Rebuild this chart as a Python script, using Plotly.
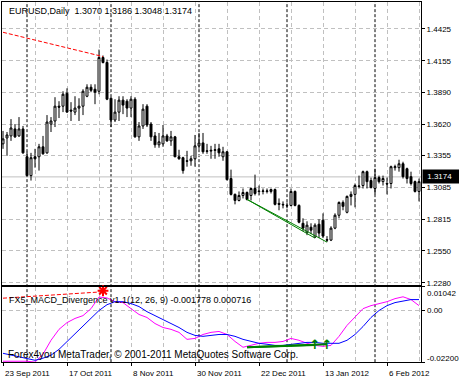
import plotly.graph_objects as go
import pandas as pd

# ---------------- data ----------------
dates = pd.bdate_range("2011-09-23", periods=105)
bars = list(range(105))

opens = [1.3453, 1.3503, 1.3520, 1.3579, 1.3520, 1.3579, 1.3344, 1.3185, 1.3344, 1.3344,
         1.3428, 1.3377, 1.3620, 1.3646, 1.3771, 1.3771, 1.3880, 1.3738, 1.3721, 1.3755,
         1.3771, 1.3855, 1.3931, 1.3914, 1.3897, 1.4182, 1.4140, 1.3838, 1.3654, 1.3721,
         1.3822, 1.3813, 1.3755, 1.3830, 1.3512, 1.3604, 1.3771, 1.3620, 1.3520, 1.3445,
         1.3453, 1.3520, 1.3478, 1.3512, 1.3344, 1.3336, 1.3310, 1.3310, 1.3327, 1.3436,
         1.3461, 1.3394, 1.3392, 1.3398, 1.3411, 1.3344, 1.3386, 1.3160, 1.3026, 1.2975,
         1.3017, 1.3042, 1.3017, 1.3076, 1.3055, 1.3051, 1.3051, 1.3051, 1.3067, 1.2950,
         1.2942, 1.2933, 1.2933, 1.3051, 1.2933, 1.2782, 1.2707, 1.2749, 1.2665, 1.2774,
         1.2808, 1.2644, 1.2640, 1.2741, 1.2850, 1.2958, 1.2875, 1.3009, 1.3026, 1.3093,
         1.3101, 1.3218, 1.3143, 1.3076, 1.3168, 1.3134, 1.3118, 1.3118, 1.3252, 1.3252,
         1.3285, 1.3243, 1.3176, 1.3134, 1.3051]
highs = [1.3562, 1.3553, 1.3662, 1.3620, 1.3679, 1.3604, 1.3386, 1.3377, 1.3411, 1.3453,
         1.3520, 1.3696, 1.3679, 1.3847, 1.3813, 1.3897, 1.3922, 1.3805, 1.3855, 1.3838,
         1.3914, 1.3956, 1.3956, 1.3956, 1.4249, 1.4199, 1.4165, 1.3847, 1.3830, 1.3855,
         1.3855, 1.3830, 1.3855, 1.3847, 1.3637, 1.3788, 1.3788, 1.3637, 1.3553, 1.3545,
         1.3612, 1.3537, 1.3562, 1.3520, 1.3403, 1.3344, 1.3394, 1.3352, 1.3528, 1.3545,
         1.3545, 1.3453, 1.3436, 1.3453, 1.3453, 1.3428, 1.3394, 1.3235, 1.3034, 1.3051,
         1.3076, 1.3051, 1.3084, 1.3193, 1.3101, 1.3076, 1.3076, 1.3076, 1.3076, 1.2992,
         1.2967, 1.2958, 1.3076, 1.3059, 1.2942, 1.2824, 1.2799, 1.2782, 1.2782, 1.2816,
         1.2866, 1.2674, 1.2757, 1.2866, 1.2967, 1.2975, 1.3017, 1.3051, 1.3118, 1.3185,
         1.3227, 1.3227, 1.3168, 1.3243, 1.3185, 1.3185, 1.3168, 1.3269, 1.3277, 1.3319,
         1.3302, 1.3252, 1.3218, 1.3143, 1.3160]
lows = [1.3411, 1.3352, 1.3478, 1.3503, 1.3512, 1.3369, 1.3176, 1.3143, 1.3252, 1.3227,
        1.3361, 1.3369, 1.3553, 1.3595, 1.3671, 1.3721, 1.3715, 1.3646, 1.3696, 1.3646,
        1.3696, 1.3847, 1.3889, 1.3788, 1.3872, 1.4132, 1.3822, 1.3595, 1.3637, 1.3646,
        1.3704, 1.3679, 1.3679, 1.3505, 1.3478, 1.3579, 1.3595, 1.3478, 1.3420, 1.3420,
        1.3428, 1.3470, 1.3436, 1.3340, 1.3319, 1.3201, 1.3260, 1.3268, 1.3260, 1.3411,
        1.3369, 1.3369, 1.3327, 1.3327, 1.3344, 1.3310, 1.3143, 1.3017, 1.2942, 1.2967,
        1.2992, 1.2975, 1.2975, 1.3017, 1.3017, 1.3026, 1.3034, 1.3034, 1.2933, 1.2892,
        1.2908, 1.2908, 1.2925, 1.2925, 1.2782, 1.2716, 1.2682, 1.2690, 1.2657, 1.2657,
        1.2657, 1.2623, 1.2632, 1.2732, 1.2824, 1.2892, 1.2866, 1.2933, 1.2917, 1.3076,
        1.3076, 1.3076, 1.3076, 1.3026, 1.3118, 1.3101, 1.3026, 1.3076, 1.3227, 1.3218,
        1.3160, 1.3118, 1.3101, 1.3042, 1.2967]
closes = [1.3495, 1.3528, 1.3587, 1.3512, 1.3579, 1.3377, 1.3185, 1.3336, 1.3327, 1.3428,
          1.3369, 1.3637, 1.3646, 1.3771, 1.3763, 1.3872, 1.3721, 1.3730, 1.3755, 1.3771,
          1.3897, 1.3931, 1.3905, 1.3889, 1.4182, 1.4140, 1.3830, 1.3654, 1.3721, 1.3822,
          1.3780, 1.3755, 1.3830, 1.3512, 1.3604, 1.3746, 1.3612, 1.3512, 1.3445, 1.3470,
          1.3520, 1.3478, 1.3512, 1.3344, 1.3327, 1.3227, 1.3306, 1.3327, 1.3436, 1.3461,
          1.3386, 1.3390, 1.3398, 1.3403, 1.3377, 1.3386, 1.3151, 1.3026, 1.2975, 1.3017,
          1.3042, 1.2984, 1.3076, 1.3034, 1.3051, 1.3055, 1.3055, 1.3067, 1.2942, 1.2942,
          1.2938, 1.2930, 1.3051, 1.2933, 1.2791, 1.2741, 1.2766, 1.2724, 1.2766, 1.2699,
          1.2674, 1.2640, 1.2741, 1.2850, 1.2958, 1.2925, 1.3009, 1.3026, 1.3101, 1.3097,
          1.3218, 1.3134, 1.3084, 1.3168, 1.3134, 1.3160, 1.3114, 1.3260, 1.3260, 1.3285,
          1.3176, 1.3160, 1.3118, 1.3051, 1.3134]

macd_bars = list(range(0, 105, 2))
macd_main = [-0.0216, -0.0216, -0.0216, -0.0216, -0.0220, -0.0186, -0.0126, -0.0079, -0.0050, -0.0032,
             -0.0020, 0.0010, 0.0060, 0.0056, 0.0040, 0.0036, 0.0010, -0.0015, -0.0028, -0.0054,
             -0.0071, -0.0079, -0.0092, -0.0122, -0.0118, -0.0101, -0.0092, -0.0088, -0.0101, -0.0131,
             -0.0156, -0.0148, -0.0139, -0.0135, -0.0135, -0.0131, -0.0118, -0.0126, -0.0139, -0.0148,
             -0.0152, -0.0148, -0.0109, -0.0062, -0.0024, 0.0010, 0.0023, 0.0032, 0.0040, 0.0053,
             0.0061, 0.0049, 0.0023]
macd_signal = [-0.0182, -0.0190, -0.0199, -0.0207, -0.0212, -0.0203, -0.0190, -0.0165, -0.0131, -0.0101,
               -0.0067, -0.0032, 0.0002, 0.0027, 0.0040, 0.0040, 0.0032, 0.0019, -0.0003, -0.0020,
               -0.0037, -0.0054, -0.0071, -0.0092, -0.0105, -0.0109, -0.0105, -0.0101, -0.0101, -0.0109,
               -0.0122, -0.0131, -0.0139, -0.0143, -0.0148, -0.0148, -0.0143, -0.0139, -0.0135, -0.0135,
               -0.0139, -0.0139, -0.0139, -0.0126, -0.0101, -0.0067, -0.0028, 0.0002, 0.0023, 0.0036,
               0.0044, 0.0049, 0.0049]

price_ticks = [1.4425, 1.4155, 1.3890, 1.3620, 1.3355, 1.3085, 1.2815, 1.2550, 1.2280]
macd_ticks = [0.01042, 0.00, -0.02200]
macd_tick_text = ["0.01042", "0.00", "-0.02200"]
separator_bars = [6, 27, 49, 71, 93]
label_bars = [0, 16, 32, 48, 64, 80, 96]
last_price = 1.3174
title_text = "EURUSD,Daily  1.3070 1.3186 1.3048 1.3174"
macd_text = "FX5_MACD_Divergence v1.1(12, 26, 9) -0.001778 0.000716"
copyright_text = "Forex4you MetaTrader, \u00a9 2001-2011 MetaQuotes Software Corp."

bear_price_x, bear_price_y = [0, 25], [1.4395, 1.4190]
bull_price_ax, bull_price_ay = [61, 81], [1.2984, 1.2623]
bull_price_bx, bull_price_by = [61, 78], [1.2984, 1.2657]
bear_macd_x, bear_macd_y = [0, 24.5], [0.0055, 0.0082]
bull_macd_ax, bull_macd_ay = [61, 81], [-0.0156, -0.0143]
bull_macd_bx, bull_macd_by = [61, 78], [-0.0156, -0.0146]
sell_x, sell_y = [25], [0.0087]
buy_x, buy_y = [78, 81], [-0.0150, -0.0150]

# ---------------- layout geometry ----------------
W, H = 459, 384
XD = [2 / W, 421 / W]
YD_MAIN = [1 - 287 / H, 1 - 2 / H]
YD_MACD = [1 - 365 / H, 1 - 289 / H]
FONT = "Liberation Sans, Arial, sans-serif"
GRID = "#c0c0c0"

fig = go.Figure()

fig.add_trace(go.Candlestick(
    x=bars, open=opens, high=highs, low=lows, close=closes,
    increasing=dict(line=dict(color="black", width=1), fillcolor="white"),
    decreasing=dict(line=dict(color="black", width=1), fillcolor="black"),
    whiskerwidth=0, xaxis="x", yaxis="y", showlegend=False, hoverinfo="skip"))

for xs, ys, col, dash in [(bear_price_x, bear_price_y, "red", "4px,2px"),
                          (bull_price_ax, bull_price_ay, "#008000", "solid"),
                          (bull_price_bx, bull_price_by, "#008000", "solid")]:
    fig.add_trace(go.Scatter(x=xs, y=ys, mode="lines", line=dict(color=col, width=1, dash=dash),
                             xaxis="x", yaxis="y", showlegend=False, hoverinfo="skip"))

fig.add_trace(go.Scatter(x=macd_bars, y=macd_main, mode="lines", line=dict(color="#ff00ff", width=1),
                         xaxis="x2", yaxis="y2", showlegend=False, hoverinfo="skip"))
fig.add_trace(go.Scatter(x=macd_bars, y=macd_signal, mode="lines", line=dict(color="#0000ff", width=1),
                         xaxis="x2", yaxis="y2", showlegend=False, hoverinfo="skip"))
fig.add_trace(go.Scatter(x=bear_macd_x, y=bear_macd_y, mode="lines", line=dict(color="red", width=1, dash="4px,2px"),
                         xaxis="x2", yaxis="y2", showlegend=False, hoverinfo="skip"))
for xs, ys in [(bull_macd_ax, bull_macd_ay), (bull_macd_bx, bull_macd_by)]:
    fig.add_trace(go.Scatter(x=xs, y=ys, mode="lines", line=dict(color="#008000", width=2),
                             xaxis="x2", yaxis="y2", showlegend=False, hoverinfo="skip"))
fig.add_trace(go.Scatter(x=sell_x, y=sell_y, mode="markers",
                         marker=dict(symbol="asterisk-open", size=9, color="red",
                                     line=dict(color="red", width=2)),
                         xaxis="x2", yaxis="y2", showlegend=False, hoverinfo="skip", cliponaxis=False))
fig.add_trace(go.Scatter(x=buy_x, y=buy_y, mode="text", text=["<b>\u2191</b>"] * len(buy_x),
                         textfont=dict(color="#008000", size=13, family="DejaVu Sans"),
                         xaxis="x2", yaxis="y2", showlegend=False, hoverinfo="skip"))

xr = [-0.25, 104.5]
common_x = dict(domain=XD, range=xr, showline=True, mirror=True, linecolor="black", linewidth=1,
                zeroline=False, showticklabels=False)
fig.update_layout(
    width=W, height=H, margin=dict(l=0, r=0, t=0, b=0),
    paper_bgcolor="white", plot_bgcolor="white",
    font=dict(family=FONT, color="black", size=8),
    xaxis=dict(**common_x, anchor="y", rangeslider=dict(visible=False),
               tickmode="linear", tick0=0, dtick=8, ticks="",
               showgrid=True, gridcolor=GRID, griddash="4px,3px", gridwidth=1),
    xaxis2=dict(**common_x, anchor="y2", matches="x",
                tickmode="array", tickvals=label_bars, ticks="outside", ticklen=3, tickcolor="black",
                showgrid=True, gridcolor=GRID, griddash="4px,3px", gridwidth=1,
                minor=dict(tick0=0, dtick=8, showgrid=True, gridcolor=GRID, griddash="4px,3px", ticks="")),
    yaxis=dict(domain=YD_MAIN, range=[1.2263, 1.4651], anchor="x", side="right",
               tickmode="array", tickvals=price_ticks, ticktext=[f"{v:.4f}" for v in price_ticks],
               ticks="outside", ticklen=3, tickcolor="black", tickfont=dict(size=8),
               showgrid=True, gridcolor=GRID, griddash="4px,3px", zeroline=False,
               showline=True, mirror=True, linecolor="black", linewidth=1),
    yaxis2=dict(domain=YD_MACD, range=[-0.022, 0.01042], anchor="x2", side="right",
                tickmode="array", tickvals=macd_ticks, showticklabels=False,
                ticks="outside", ticklen=3, tickcolor="black",
                showgrid=True, gridcolor=GRID, griddash="4px,3px", zeroline=False,
                showline=True, mirror=True, linecolor="black", linewidth=1),
)

shapes = []
for b in separator_bars:
    shapes.append(dict(type="line", xref="x", yref="paper", x0=b, x1=b, y0=YD_MACD[0], y1=YD_MAIN[1],
                       line=dict(color="black", width=1, dash="3px,2px"), layer="below"))
shapes.append(dict(type="line", xref="x domain", yref="y", x0=0, x1=1, y0=last_price, y1=last_price,
                   line=dict(color=GRID, width=1), layer="below"))
fig.update_layout(shapes=shapes)

ann = []
ann.append(dict(xref="paper", yref="paper", x=7 / W, y=1 - 11 / H, xanchor="left", yanchor="middle",
                text=title_text, showarrow=False, font=dict(size=9)))
ann.append(dict(xref="paper", yref="paper", x=7 / W, y=1 - 302 / H, xanchor="left", yanchor="middle",
                text=macd_text, showarrow=False, font=dict(size=9)))
ann.append(dict(xref="paper", yref="paper", x=6 / W, y=1 - 357.5 / H, xanchor="left", yanchor="middle",
                text=copyright_text, showarrow=False, font=dict(size=10)))
for b in label_bars:
    ann.append(dict(xref="x2", yref="paper", x=b, y=1 - 376 / H, xanchor="left", yanchor="middle",
                    text=f"{dates[b].day} {dates[b]:%b %Y}", showarrow=False, font=dict(size=8)))
shifts = [-7, 0, 4]
for v, t, s in zip(macd_ticks, macd_tick_text, shifts):
    ann.append(dict(xref="paper", yref="y2", x=425 / W, y=v, xanchor="left", yanchor="middle",
                    yshift=s, text=t, showarrow=False, font=dict(size=8)))
ann.append(dict(xref="paper", yref="y", x=422 / W, y=last_price, xanchor="left", yanchor="middle",
                text="&nbsp;" + f"{last_price:.4f}" + "&nbsp;&nbsp;&nbsp;", showarrow=False,
                font=dict(size=8, color="white"), bgcolor="black", borderpad=2))
fig.update_layout(annotations=ann)

fig.write_html("out.html")
